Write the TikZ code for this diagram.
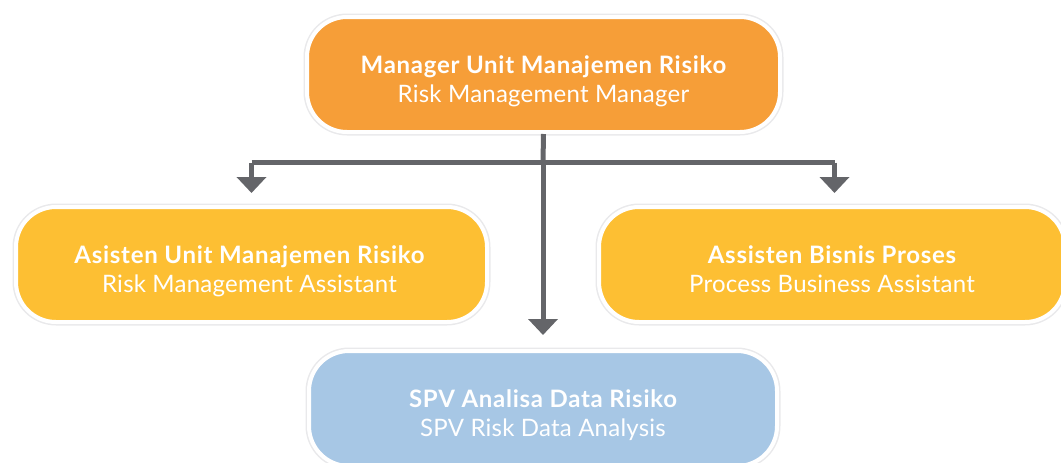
\documentclass[tikz,border=0pt]{standalone}
\usepackage{fontspec}
\setmainfont{Lato}
\newfontfamily\ttlfont[LetterSpace=3.0]{Lato}
\newfontfamily\subfont[LetterSpace=1.0]{Lato}
\usetikzlibrary{arrows.meta}
\definecolor{cOrange}{HTML}{F69E38}
\definecolor{cYellow}{HTML}{FDBF33}
\definecolor{cBlue}{HTML}{A7C7E5}
\definecolor{cLine}{HTML}{646569}
\definecolor{cShadow}{HTML}{E9E9EB}
\begin{document}
\begin{tikzpicture}[x=1pt,y=-1pt,
  box/.style={rectangle, rounded corners=40pt, draw=white, line width=4pt,
    minimum height=115pt, inner sep=0pt,
    preaction={draw=cShadow, line width=7pt}},
  ttl/.style={anchor=base, text=white, inner sep=0pt, font=\ttlfont\fontsize{24}{28}\selectfont\bfseries},
  sub/.style={anchor=base, text=white, inner sep=0pt, font=\subfont\fontsize{24}{28}\selectfont},
  conn/.style={draw=cLine, line width=5pt},
  arr/.style={conn, -{Triangle[width=29pt,length=16pt]}}
]
\useasboundingbox (0,0) rectangle (1061,463);
\begin{scope}
\clip (0,0) rectangle (1061,463);
\node[box, fill=cOrange, minimum width=473pt] (top) at (543.5,74.5) {};
\node[box, fill=cYellow, minimum width=471pt] (left) at (251.5,264.5) {};
\node[box, fill=cYellow, minimum width=466pt] (right) at (832,264.5) {};
\node[box, fill=cBlue, minimum width=468pt] (bottom) at (543,408.5) {};
\end{scope}

\node[ttl] (topA) at ([yshift=1.5pt]top.center) {Manager Unit Manajemen Risiko};
\node[sub] (topB) at ([yshift=-27.5pt]top.center) {Risk Management Manager};
\node[ttl] (leftA) at ([yshift=1.5pt,xshift=-2pt]left.center) {Asisten Unit Manajemen Risiko};
\node[sub] (leftB) at ([yshift=-27.5pt,xshift=-2pt]left.center) {Risk Management Assistant};
\node[ttl] (rightA) at ([yshift=1.5pt]right.center) {Assisten Bisnis Proses};
\node[sub] (rightB) at ([yshift=-27.5pt]right.center) {Process Business Assistant};
\node[ttl] (bottomA) at ([yshift=1.5pt]bottom.center) {SPV Analisa Data Risiko};
\node[sub] (bottomB) at ([yshift=-27.5pt]bottom.center) {SPV Risk Data Analysis};

\coordinate (jn) at (543,162.5);
\coordinate (jl) at (251.5,162.5);
\coordinate (jr) at (834.5,162.5);
\draw[conn] (top.south) -- (jn);
\draw[conn] (jl) -- (jr);
\draw[arr, shorten >=12pt] (jl) -- (jl |- left.north);
\draw[arr, shorten >=12pt] (jr) -- (jr |- right.north);
\draw[arr, shorten >=14pt] (jn) -- (jn |- bottom.north);
\end{tikzpicture}
\end{document}
